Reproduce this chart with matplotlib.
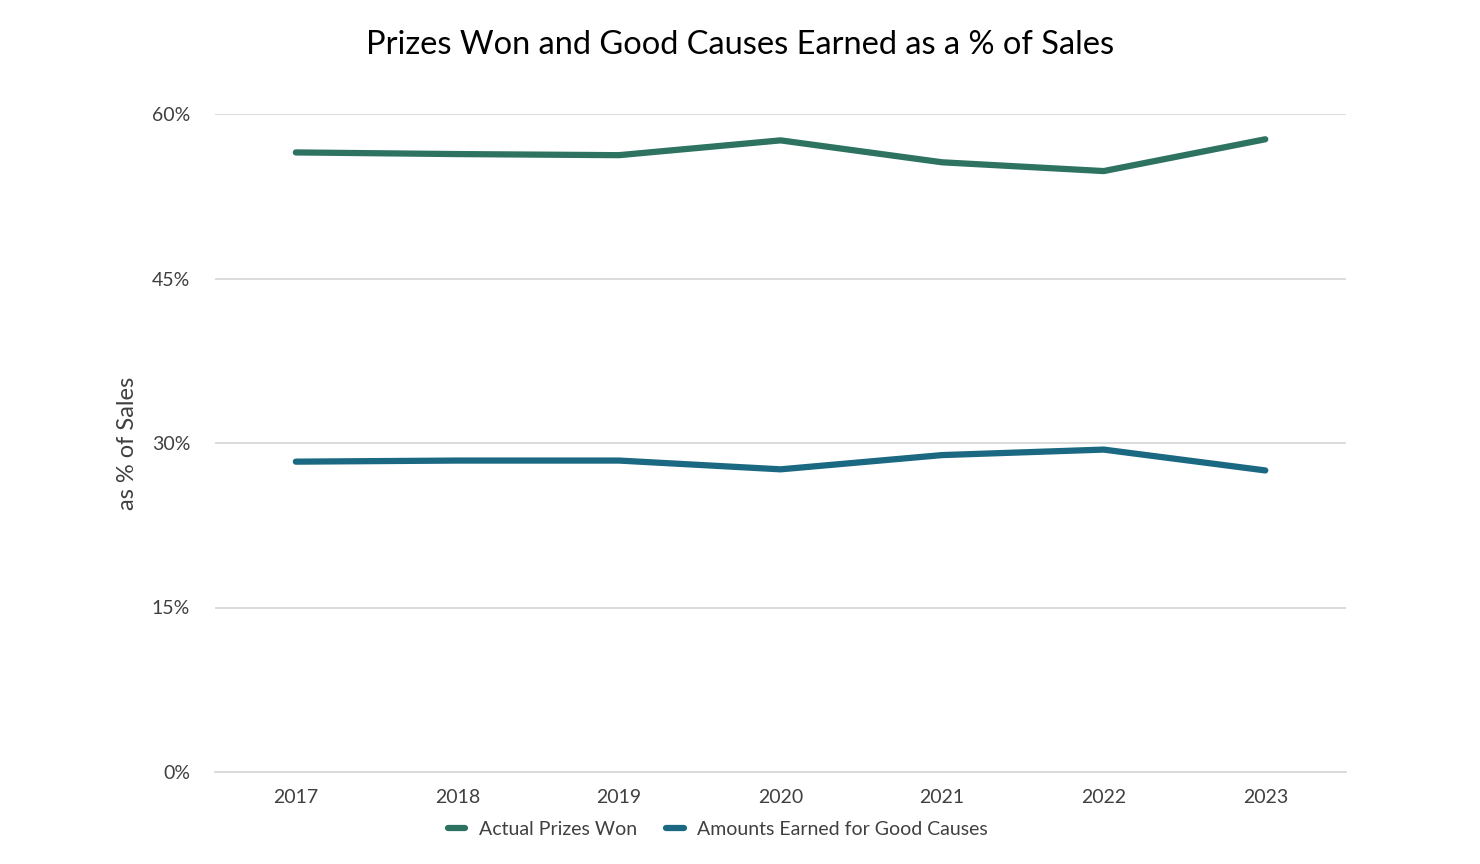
import matplotlib.pyplot as plt
from matplotlib.ticker import FuncFormatter

plt.rcParams['font.family'] = ['Lato', 'DejaVu Sans']

years = ['2017', '2018', '2019', '2020', '2021', '2022', '2023']
prizes = [56.5, 56.35, 56.25, 57.6, 55.6, 54.8, 57.7]
good_causes = [28.3, 28.4, 28.4, 27.6, 28.9, 29.4, 27.5]

fig = plt.figure(figsize=(14.8, 8.64), dpi=100)
ax = fig.add_axes([0.1453, 0.1065, 0.7642, 0.7615])

x = range(len(years))
ax.plot(x, prizes, color='#2E7262', lw=4.5, solid_capstyle='round', label='Actual Prizes Won')
ax.plot(x, good_causes, color='#1B6882', lw=4.5, solid_capstyle='round', label='Amounts Earned for Good Causes')

ax.set_xlim(-0.5, len(years) - 0.5)
ax.set_ylim(0, 60)
ax.set_yticks([0, 15, 30, 45, 60])
ax.yaxis.set_major_formatter(FuncFormatter(lambda v, p: f'{v:.0f}%'))
ax.set_xticks(list(x))
ax.set_xticklabels(years)
ax.grid(axis='y', color='#D9D9D9', lw=1.3)
ax.set_axisbelow(True)
for s in ['left', 'right', 'top']:
    ax.spines[s].set_visible(False)
ax.spines['bottom'].set_color('#D9D9D9')
ax.spines['bottom'].set_linewidth(1.3)
ax.tick_params(length=0, labelsize=14, colors='#404040', pad=12)
ax.tick_params(axis='y', pad=18)
ax.set_ylabel('as % of Sales', fontsize=17, color='#404040', labelpad=10)

fig.suptitle('Prizes Won and Good Causes Earned as a % of Sales', fontsize=23.5, y=0.965, x=0.5)
fig.legend(loc='lower center', bbox_to_anchor=(0.485, 0.01), ncol=2, frameon=False,
           fontsize=14, handlelength=0.9, handletextpad=0.7, columnspacing=1.5,
           labelcolor='#404040')

fig.savefig('out.png', dpi=100)
